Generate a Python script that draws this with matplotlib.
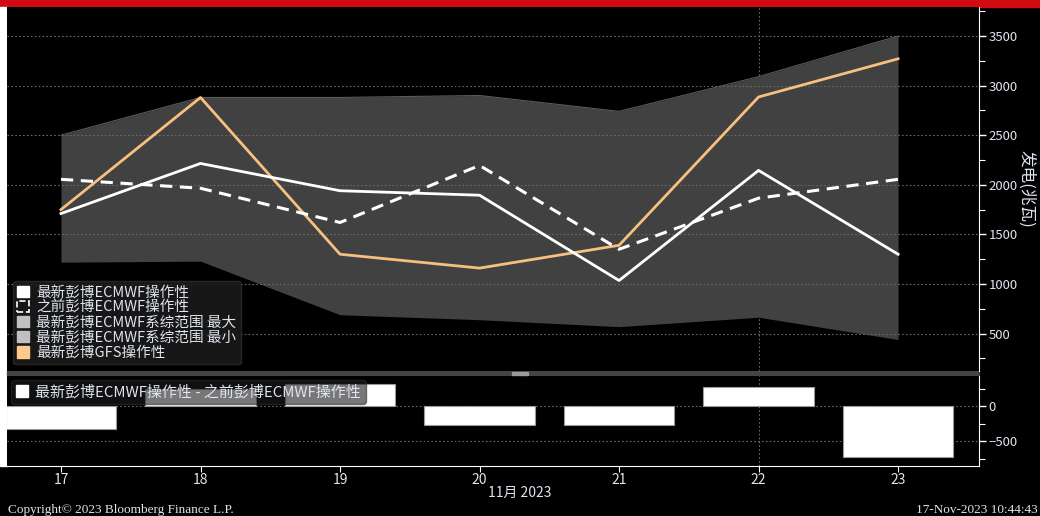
import matplotlib.pyplot as plt
from matplotlib.patches import Patch, Rectangle
from matplotlib.ticker import MultipleLocator

plt.rcParams['font.family'] = ['Noto Sans CJK SC', 'DejaVu Sans']

days = [17, 18, 19, 20, 21, 22, 23]
ecmwf_latest = [1710, 2215, 1940, 1895, 1035, 2145, 1300]
ecmwf_prev = [2055, 1965, 1620, 2195, 1350, 1865, 2055]
gfs = [1750, 2880, 1300, 1160, 1390, 2885, 3270]
ens_max = [2500, 2880, 2880, 2900, 2740, 3090, 3500]
ens_min = [1220, 1230, 690, 640, 570, 665, 440]
diff = [-330, 250, 315, -270, -270, 275, -730]

BG = 'black'
TXT = '#dfe4ee'
GRID = '#6a6a6a'

fig = plt.figure(figsize=(10.4, 5.16), dpi=100, facecolor=BG)

# red strip on top and white strip on the left edge
fig.add_artist(Rectangle((0, 1 - 7 / 516), 1, 7 / 516, transform=fig.transFigure,
                         color='#d20a11', zorder=0))
fig.add_artist(Rectangle((0, 1 - 466 / 516), 7 / 1040, (466 - 7) / 516,
                         transform=fig.transFigure, color='white', zorder=0))

x0 = 7 / 1040
w = (979 - 7) / 1040
ax = fig.add_axes([x0, 1 - 371 / 516, w, (371 - 7) / 516], facecolor=BG)
ax2 = fig.add_axes([x0, 1 - 466 / 516, w, (466 - 376) / 516], facecolor=BG, sharex=ax)

# separator between panels
fig.add_artist(Rectangle((x0, 1 - 375 / 516), w, 4 / 516, transform=fig.transFigure,
                         color='#444444', zorder=0))
fig.add_artist(Rectangle((512 / 1040, 1 - 374.5 / 516), 16 / 1040, 1 / 516,
                         transform=fig.transFigure, color='#9a9a9a', zorder=1))
fig.add_artist(Rectangle((512 / 1040, 1 - 372.5 / 516), 16 / 1040, 1 / 516,
                         transform=fig.transFigure, color='#9a9a9a', zorder=1))

ax.fill_between(days, ens_min, ens_max, color='#414141', lw=0, zorder=1)
ax.plot(days, ens_max, color='#5a5a5a', lw=0.8, zorder=1)
ax.plot(days, gfs, color='#f7c07e', lw=2, zorder=3)
ax.plot(days, ecmwf_latest, color='white', lw=2, zorder=4)
ax.plot(days, ecmwf_prev, color='white', lw=2.2, ls=(0, (4, 2.5)), zorder=4)

ax.set_xlim(16.613, 23.58)
ax.set_ylim(123, 3792)

ax2.bar(days, diff, width=0.79, color='white', edgecolor='#9a9a9a', lw=0.8, zorder=2)
ax2.set_ylim(-857, 429)

for a in (ax, ax2):
    for s in ('left', 'top'):
        a.spines[s].set_visible(False)
    a.spines['right'].set_color('white')
    a.spines['bottom'].set_color('white')
    a.yaxis.tick_right()
    a.tick_params(axis='y', colors='white', labelcolor=TXT, labelsize=9.5,
                  length=5, width=1, direction='out', pad=2)
    a.tick_params(axis='y', which='minor', colors='white', length=4, width=0.8)
    a.axvline(22, color=GRID, ls=(0, (1.5, 2)), lw=0.8, zorder=0)

ax.spines['bottom'].set_visible(False)
ax.yaxis.set_minor_locator(MultipleLocator(250))
ax.set_yticks([500, 1000, 1500, 2000, 2500, 3000, 3500])
ax.grid(axis='y', color=GRID, ls=(0, (1.5, 2)), lw=0.8, zorder=0)
ax.tick_params(axis='x', bottom=False, labelbottom=False)

ax2.set_yticks([-500, 0])
ax2.yaxis.set_minor_locator(MultipleLocator(250))
ax2.grid(axis='y', color=GRID, ls=(0, (1.5, 2)), lw=0.8, zorder=0)
ax2.set_xticks(days)
ax2.set_xticklabels([str(d) for d in days])
ax2.tick_params(axis='x', colors='white', labelcolor=TXT, labelsize=10, length=4,
                direction='out', pad=1)

ax.text(1.049, 0.5, '发电(兆瓦)', transform=ax.transAxes, rotation=-90,
        ha='center', va='center', color=TXT, fontsize=12)

handles = [
    Patch(facecolor='white', edgecolor='white'),
    Patch(facecolor='none', edgecolor='white', ls='--', lw=1.2),
    Patch(facecolor='#c0c0c0', edgecolor='#c0c0c0'),
    Patch(facecolor='#c0c0c0', edgecolor='#c0c0c0'),
    Patch(facecolor='#fcc98a', edgecolor='#fcc98a'),
]
labels = ['最新彭博ECMWF操作性', '之前彭博ECMWF操作性', '最新彭博ECMWF系综范围 最大',
          '最新彭博ECMWF系综范围 最小', '最新彭博GFS操作性']
leg = ax.legend(handles, labels, loc='lower left', bbox_to_anchor=(0.003, 0.01),
                fontsize=10.5, frameon=True, facecolor='#1c1c1c', edgecolor='#2c2c2c',
                framealpha=0.85, labelcolor=TXT, handlelength=0.8, handleheight=0.8,
                handletextpad=0.5, labelspacing=0.08, borderpad=0.3, borderaxespad=0.2)
leg.set_zorder(6)

leg2 = ax2.legend([Patch(facecolor='white', edgecolor='white')],
                  ['最新彭博ECMWF操作性 - 之前彭博ECMWF操作性'],
                  loc='upper left', bbox_to_anchor=(0.003, 0.97), fontsize=10.8,
                  frameon=True, facecolor='#1c1c1c', edgecolor='#2c2c2c',
                  framealpha=0.6, labelcolor=TXT, handlelength=0.8, handleheight=0.8,
                  handletextpad=0.5, borderpad=0.3, borderaxespad=0.1)
leg2.set_zorder(6)

fig.text(520 / 1040, 1 - 493 / 516, '11月 2023', ha='center', va='center',
         color=TXT, fontsize=10)
fig.text(8 / 1040, 1 - 510 / 516, 'Copyright© 2023 Bloomberg Finance L.P.',
         ha='left', va='center', color=TXT, fontsize=9.5, family='Liberation Serif')
fig.text(1038 / 1040, 1 - 510 / 516, '17-Nov-2023 10:44:43',
         ha='right', va='center', color=TXT, fontsize=9.5, family='Liberation Serif')

fig.savefig('out.png', dpi=100, facecolor=BG)
